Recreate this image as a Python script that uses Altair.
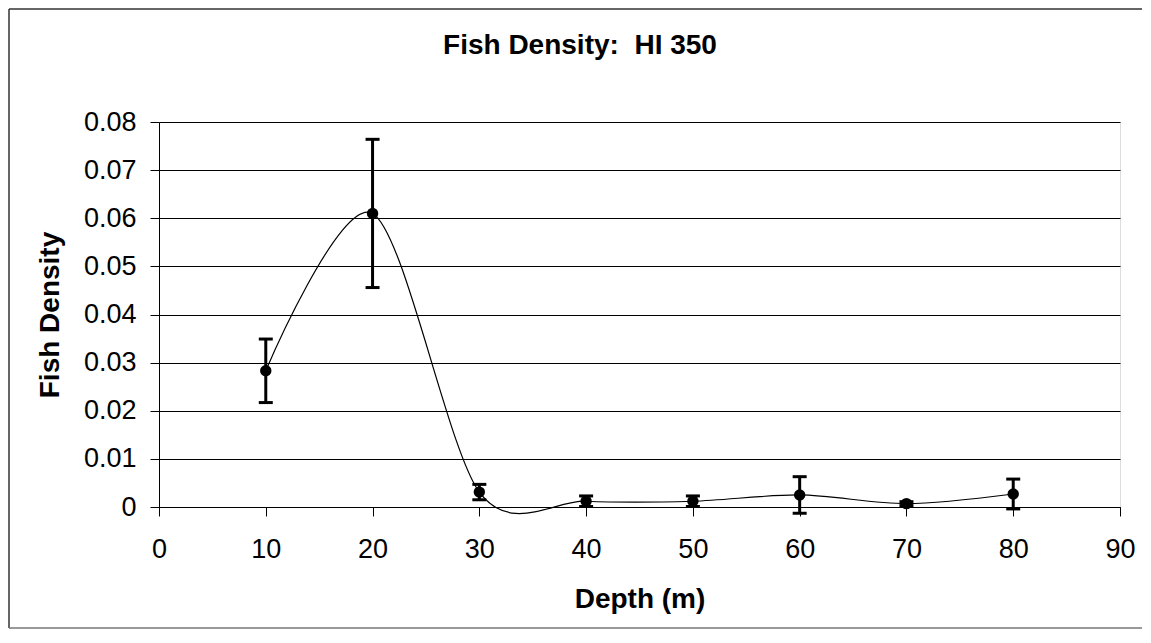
import altair as alt
import pandas as pd

depth = [10, 20, 30, 40, 50, 60, 70, 80]
density = [0.0283, 0.0610, 0.0031, 0.0012, 0.0012, 0.0025, 0.0007, 0.0027]
error = [0.0066, 0.0154, 0.0016, 0.0011, 0.0011, 0.0038, 0.0004, 0.0031]
x_ticks = [0, 10, 20, 30, 40, 50, 60, 70, 80, 90]
y_ticks = [0, 0.01, 0.02, 0.03, 0.04, 0.05, 0.06, 0.07, 0.08]
title_text = ["Fish Density:\u00a0\u00a0HI 350"]

df = pd.DataFrame({"depth": depth, "density": density, "err": error})
df["lo"] = df["density"] - df["err"]
df["hi"] = df["density"] + df["err"]

FONT = "Liberation Sans"
W, H = 961, 385
PL, PT, PR, PB = 151, 114, 22, 122

xs = alt.Scale(domain=[0, 90], nice=False, zero=False)
ys = alt.Scale(domain=[0, 0.08], nice=False)

x_axis = alt.Axis(values=x_ticks, grid=False, tickSize=9, tickColor="#000", domainColor="#000",
                  labelFontSize=27, labelFont=FONT, labelColor="#000", labelPadding=20,
                  title="Depth (m)", titleFont=FONT, titleFontSize=28, titleFontWeight="bold",
                  titleColor="#000", titleBaseline="alphabetic", titleY=100, titleX=W / 2,
                  labelFlush=False, labelOverlap=False)
y_axis = alt.Axis(values=y_ticks, grid=True, gridColor="#000", gridWidth=1, gridOpacity=1,
                  tickSize=9, tickColor="#000", domainColor="#000",
                  labelFontSize=27, labelFont=FONT, labelColor="#000", labelPadding=14,
                  labelExpr="datum.value == 0 ? '0' : format(datum.value, '.2f')",
                  title="Fish Density", titleFont=FONT, titleFontSize=28, titleFontWeight="bold",
                  titleColor="#000", titleAngle=270, titleBaseline="alphabetic",
                  titleX=-101, titleY=H / 2, labelFlush=False, labelOverlap=False)

base = alt.Chart(df)

line = base.mark_line(interpolate="cardinal", tension=0.1, color="#000", strokeWidth=1.2).encode(
    x=alt.X("depth:Q", scale=xs, axis=x_axis),
    y=alt.Y("density:Q", scale=ys, axis=y_axis),
)
bars = base.mark_rule(color="#000", strokeWidth=3).encode(
    x=alt.X("depth:Q", scale=xs), y=alt.Y("lo:Q", scale=ys), y2="hi:Q"
)
cap_lo = base.mark_tick(orient="horizontal", size=14, thickness=3, color="#000", opacity=1).encode(
    x=alt.X("depth:Q", scale=xs), y=alt.Y("lo:Q", scale=ys)
)
cap_hi = base.mark_tick(orient="horizontal", size=14, thickness=3, color="#000", opacity=1).encode(
    x=alt.X("depth:Q", scale=xs), y=alt.Y("hi:Q", scale=ys)
)
pts = base.mark_circle(size=130, color="#000", opacity=1).encode(
    x=alt.X("depth:Q", scale=xs), y=alt.Y("density:Q", scale=ys)
)

title = alt.Chart(alt.Data(values=[{"t": title_text[0]}])).mark_text(
    font=FONT, fontSize=28, fontWeight="bold", color="#000", align="center", baseline="alphabetic"
).encode(text="t:N", x=alt.value(421), y=alt.value(-68.5))

frame_data = alt.Data(values=[{"k": 0}])
frame_left = alt.Chart(frame_data).mark_rule(color="#333", strokeWidth=1.5).encode(
    x=alt.value(-150), y=alt.value(-113), y2=alt.value(H + PB - 1)
)
frame_top = alt.Chart(frame_data).mark_rule(color="#333", strokeWidth=1.5).encode(
    x=alt.value(-150), x2=alt.value(W + PR), y=alt.value(-113)
)
frame_bot = alt.Chart(frame_data).mark_rule(color="#777", strokeWidth=1.5).encode(
    x=alt.value(-150), x2=alt.value(W + PR), y=alt.value(H + PB - 1)
)

chart = alt.layer(line, bars, cap_lo, cap_hi, pts, title, frame_left, frame_top, frame_bot).properties(
    width=W, height=H,
    autosize=alt.AutoSizeParams(type="none"),
    padding={"left": PL, "top": PT, "right": PR, "bottom": PB},
).configure_view(stroke="#000", strokeWidth=1.5).configure(background="white")

chart.save("out.html", embed_options={"renderer": "svg", "actions": False})
